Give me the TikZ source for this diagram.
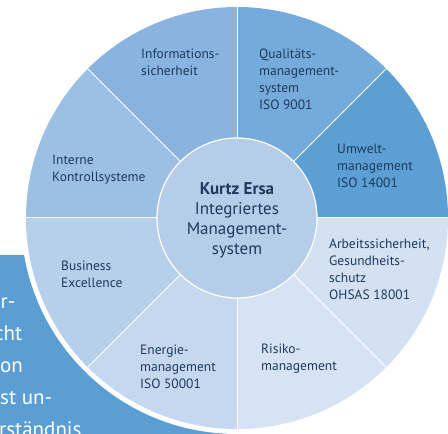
\documentclass[tikz,border=0pt]{standalone}
\usepackage{fontspec}
\setmainfont{PT Sans}
\usetikzlibrary{positioning,calc}
\definecolor{ersatext}{HTML}{1F3A5C}
\definecolor{panelblue}{HTML}{5B9ED3}
\definecolor{umwelt}{HTML}{5B9FD4}
\definecolor{quali}{HTML}{75ABDB}
\definecolor{info}{HTML}{88B4DF}
\definecolor{intern}{HTML}{9CC0E4}
\definecolor{business}{HTML}{B6CFEB}
\definecolor{energie}{HTML}{C5D8EF}
\definecolor{risiko}{HTML}{D5E3F4}
\definecolor{arbeit}{HTML}{D3E1F3}
\definecolor{hubfill}{HTML}{B6CDEA}
\tikzset{
  seglabel/.style={anchor=base west,align=left,inner sep=0pt,text=ersatext,font=\fontsize{13.5}{16.7}\selectfont},
  hubtext/.style={anchor=base,align=center,inner sep=0pt,text=ersatext,font=\fontsize{17}{20}\selectfont},
  teaser/.style={anchor=base west,inner sep=0pt,text=white,font=\fontsize{21}{32}\selectfont},
  divider/.style={draw=white,line width=1pt}
}

\begin{document}
\begin{tikzpicture}[x=1pt,y=1pt]
  \useasboundingbox (0,0) rectangle (448,434);
  \clip (0,0) rectangle (448,434);
  \coordinate (hub) at (237,216);
  % blue panel behind the wheel
  \fill[panelblue] (-10,-10) rectangle (240,179);
  \foreach \t/\x/\y [count=\i] in {r-/0.5/125, cht/-6/93, on/0/61, st un-/0/29, rständnis/-1/-3}
    \node[teaser] (tease\i) at (\x,\y) {\t};
  % wheel
  \fill[white] (hub) circle[radius=216];
  \foreach \a/\col in {0/umwelt,45/quali,90/info,135/intern,180/business,225/energie,270/risiko,315/arbeit}
    \fill[\col] (hub) -- ++(\a:211) arc[start angle=\a,delta angle=45,radius=211] -- cycle;
  \foreach \a in {0,45,...,315}
    \draw[divider] (hub) -- ++(\a:211);
  \node[circle,draw=white,line width=1.2pt,fill=hubfill,minimum size=160pt] (core) at (hub) {};
  % base anchors sit on the last line
  \node[hubtext] (title) at (237,179) {\textbf{Kurtz Ersa}\\Integriertes\\Management-\\system};
  % segment labels
  \node[seglabel] (infosec) at (141,358.3) {Informations-\\sicherheit};
  \node[seglabel] (qms) at (259,324.9) {Qualitäts-\\management-\\system\\ISO 9001};
  \node[seglabel] (ems) at (337,246.6) {Umwelt-\\management\\ISO 14001};
  \node[seglabel] (ohs) at (329,134.9) {Arbeitssicherheit,\\Gesundheits-\\schutz\\OHSAS 18001};
  \node[seglabel] (risk) at (261,63.3) {Risiko-\\management};
  \node[seglabel] (enms) at (140,45.6) {Energie-\\management\\ISO 50001};
  \node[seglabel] (bex) at (61,146.3) {Business\\Excellence};
  \node[seglabel] (iks) at (52,252.3) {Interne\\Kontrollsysteme};
\end{tikzpicture}
\end{document}
